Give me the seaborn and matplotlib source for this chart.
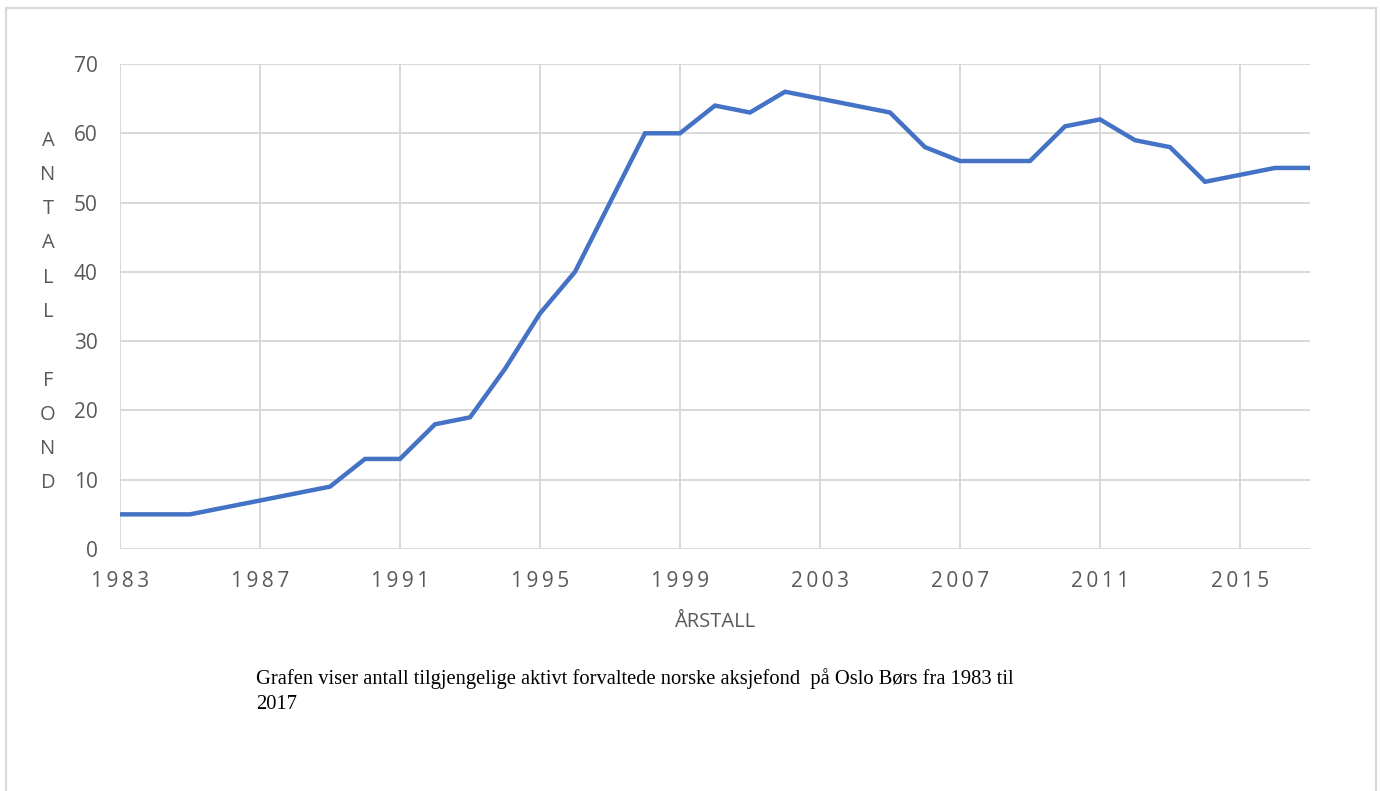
import pandas as pd
import matplotlib.pyplot as plt
import seaborn as sns
from matplotlib.patches import Rectangle

# Data: antall aksjefond per år
aar = list(range(1983, 2018))
antall = [5, 5, 5, 6, 7, 8, 9, 13, 13, 18, 19, 26, 34, 40, 50, 60, 60, 64, 63, 66,
          65, 64, 63, 58, 56, 56, 56, 61, 62, 59, 58, 53, 54, 55, 55]
xticks = list(range(1983, 2017, 4))
yticks = [0, 10, 20, 30, 40, 50, 60, 70]

df = pd.DataFrame({'aar': aar, 'antall': antall})

sns.set_style('white')
plt.rcParams['font.family'] = ['Open Sans', 'DejaVu Sans']

grid_farge = '#d9d9d9'
tekst_farge = '#595959'

fig = plt.figure(figsize=(13.8, 7.91), dpi=100)
ax = fig.add_axes([120 / 1380, 1 - 549 / 791, 1190 / 1380, 485 / 791])

sns.lineplot(data=df, x='aar', y='antall', ax=ax, color='#4472C4', linewidth=3.2,
             solid_joinstyle='miter', zorder=3)

ax.set_xlim(1983, 2017)
ax.set_ylim(0, 70)
ax.set_xticks(xticks)
ax.set_xticklabels(['\u2009'.join(str(t)) for t in xticks])
ax.set_yticks(yticks)

for s in ax.spines.values():
    s.set_visible(False)
ax.grid(True, color=grid_farge, linewidth=1.4)
ax.set_axisbelow(True)
ax.tick_params(axis='both', length=0, labelsize=15, colors=tekst_farge)
ax.tick_params(axis='y', pad=16)
ax.tick_params(axis='x', pad=16)

ax.set_xlabel('ÅRSTALL', fontsize=14.5, color=tekst_farge, labelpad=14)
ax.set_ylabel('')
fig.text(48 / 1380, 1 - 312 / 791, '\n'.join('ANTALL FOND'), ha='center', va='center',
         fontsize=14.5, color=tekst_farge, linespacing=1.95)

# Bildetekst
fig.text(256 / 1380, 1 - 691 / 791,
         'Grafen viser antall tilgjengelige aktivt forvaltede norske aksjefond  på Oslo Børs fra 1983 til\n2017',
         ha='left', va='center', fontsize=14.8, family='Liberation Serif', color='black',
         linespacing=1.45)

# Ramme rundt diagrammet
fig.add_artist(Rectangle((6 / 1380, -0.05), 1370 / 1380, 1.05 - 8 / 791,
                         transform=fig.transFigure, fill=False,
                         edgecolor=grid_farge, linewidth=1.6))

fig.savefig('out.png', dpi=100)
